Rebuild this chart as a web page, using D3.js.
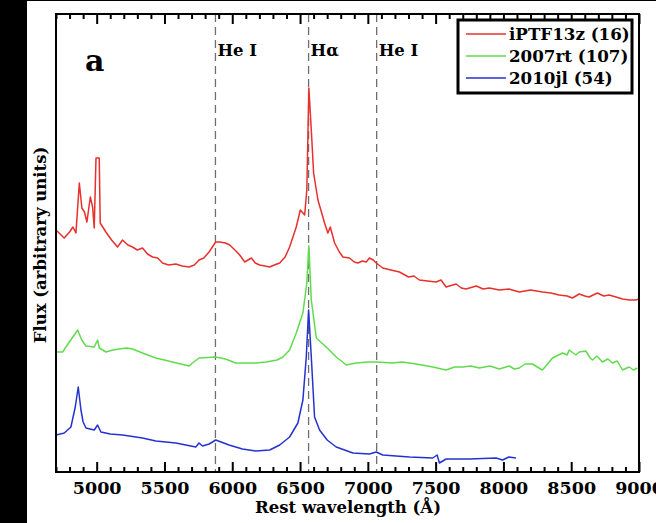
<!DOCTYPE html>
<html>
<head>
<meta charset="utf-8">
<script src="https://cdn.jsdelivr.net/npm/d3@7"></script>
<style>
  body { margin: 0; background: #000; }
  svg { display: block; }
  text { font-family: "DejaVu Serif", serif; font-weight: bold; fill: #000; }
</style>
</head>
<body>
<div id="chart"></div>
<script>
// spectra: [rest wavelength (A), flux (arbitrary units)]
const ptf13z = [
  [4700, 2.42], [4760, 2.34], [4800, 2.40], [4825, 2.45], [4847, 2.39], [4872, 2.89],
  [4891, 2.64], [4910, 2.60], [4928, 2.50], [4953, 2.75], [4970, 2.65], [4982, 2.44],
  [4995, 3.14], [5019, 3.14], [5026, 2.49], [5068, 2.40], [5110, 2.32], [5154, 2.25],
  [5191, 2.32], [5230, 2.27], [5265, 2.25], [5300, 2.22], [5338, 2.24], [5375, 2.18],
  [5412, 2.15], [5450, 2.14], [5486, 2.09], [5530, 2.07], [5584, 2.08], [5630, 2.06],
  [5682, 2.05], [5720, 2.07], [5755, 2.12], [5790, 2.14], [5829, 2.20], [5878, 2.30],
  [5908, 2.30], [5950, 2.29], [5981, 2.27], [6020, 2.22], [6055, 2.17], [6092, 2.10],
  [6141, 2.14], [6170, 2.09], [6202, 2.07], [6240, 2.06], [6276, 2.05], [6310, 2.07],
  [6350, 2.09], [6390, 2.15], [6423, 2.25], [6472, 2.45], [6502, 2.62], [6534, 2.57],
  [6550, 2.82], [6565, 3.84], [6583, 3.42], [6600, 2.99], [6632, 2.72], [6681, 2.49],
  [6705, 2.39], [6723, 2.45], [6755, 2.29], [6790, 2.20], [6816, 2.15], [6865, 2.14],
  [6900, 2.10], [6926, 2.09], [6960, 2.11], [6988, 2.10], [7012, 2.14], [7040, 2.12],
  [7062, 2.09], [7110, 2.04], [7170, 2.02], [7233, 2.00], [7300, 1.95], [7340, 1.96],
  [7380, 1.92], [7440, 1.91], [7503, 1.90], [7540, 1.92], [7577, 1.85], [7651, 1.88],
  [7690, 1.84], [7724, 1.83], [7800, 1.86], [7850, 1.83], [7896, 1.84], [7970, 1.82],
  [8040, 1.83], [8117, 1.80], [8200, 1.82], [8288, 1.80], [8350, 1.79], [8411, 1.77],
  [8470, 1.76], [8509, 1.74], [8559, 1.78], [8600, 1.76], [8632, 1.75], [8693, 1.79],
  [8740, 1.76], [8780, 1.77], [8830, 1.75], [8878, 1.73], [8930, 1.72], [8976, 1.72],
  [9000, 1.73]
];

const sn2007rt = [
  [4700, 1.20], [4749, 1.20], [4798, 1.30], [4860, 1.42], [4890, 1.32], [4921, 1.26],
  [4982, 1.25], [5007, 1.32], [5019, 1.24], [5068, 1.20], [5120, 1.22], [5166, 1.23],
  [5220, 1.24], [5265, 1.23], [5338, 1.19], [5436, 1.14], [5500, 1.12], [5559, 1.10],
  [5620, 1.08], [5682, 1.06], [5706, 1.09], [5755, 1.14], [5878, 1.15], [5950, 1.13],
  [6025, 1.09], [6100, 1.09], [6173, 1.09], [6250, 1.10], [6330, 1.12], [6374, 1.15],
  [6423, 1.22], [6472, 1.39], [6521, 1.59], [6550, 1.89], [6565, 2.26], [6583, 1.72],
  [6620, 1.34], [6693, 1.25], [6767, 1.15], [6841, 1.07], [6914, 1.09], [7000, 1.10],
  [7062, 1.10], [7184, 1.09], [7250, 1.10], [7307, 1.09], [7400, 1.07], [7479, 1.05],
  [7577, 1.02], [7640, 1.05], [7700, 1.05], [7760, 1.06], [7822, 1.04], [7900, 1.06],
  [7970, 1.03], [8043, 1.06], [8080, 1.03], [8117, 1.04], [8160, 1.08], [8215, 1.08],
  [8250, 1.05], [8288, 1.02], [8362, 1.14], [8436, 1.19], [8470, 1.17], [8485, 1.22],
  [8534, 1.17], [8560, 1.20], [8607, 1.21], [8640, 1.14], [8657, 1.12], [8690, 1.16],
  [8730, 1.10], [8770, 1.13], [8804, 1.09], [8840, 1.11], [8878, 1.02], [8927, 1.05],
  [8960, 1.02], [8988, 1.04]
];

const sn2010jl = [
  [4700, 0.37], [4761, 0.39], [4810, 0.45], [4842, 0.65], [4864, 0.85], [4884, 0.62],
  [4900, 0.50], [4921, 0.44], [4982, 0.42], [5007, 0.47], [5031, 0.40], [5100, 0.38],
  [5191, 0.37], [5338, 0.34], [5436, 0.31], [5584, 0.29], [5731, 0.25], [5755, 0.29],
  [5780, 0.26], [5830, 0.28], [5878, 0.32], [5976, 0.27], [6075, 0.23], [6173, 0.21],
  [6276, 0.22], [6350, 0.27], [6423, 0.35], [6484, 0.49], [6521, 0.72], [6546, 1.15],
  [6563, 1.62], [6583, 1.15], [6607, 0.55], [6644, 0.42], [6700, 0.32], [6767, 0.25],
  [6890, 0.19], [7012, 0.18], [7062, 0.20], [7110, 0.17], [7307, 0.15], [7479, 0.14],
  [7511, 0.17], [7528, 0.09], [7577, 0.13], [7749, 0.13], [7945, 0.14], [7994, 0.12],
  [8040, 0.15], [8092, 0.14]
];

const seriesNames = ["iPTF13z (16)", "2007rt (107)", "2010jl (54)"];
const seriesColors = ["#e8302c", "#5fdc4c", "#2433cf"];

// line identifications
const lineNames = ["He I", "H\u03b1", "He I"];
const lineWaves = [5876, 6563, 7065];

const majorTicks = [5000, 5500, 6000, 6500, 7000, 7500, 8000, 8500, 9000];

const W = 656, H = 523;
const margin = { top: 14, right: 17, bottom: 51, left: 56 };
const width = W - margin.left - margin.right;
const height = H - margin.top - margin.bottom;

const svg = d3.select("#chart").append("svg")
  .attr("width", W)
  .attr("height", H);

// white page with the black strip on the left
svg.append("rect").attr("x", 27).attr("y", 1).attr("width", W - 27).attr("height", H - 1).attr("fill", "#fff");

const g = svg.append("g").attr("transform", `translate(${margin.left},${margin.top})`);

const x = d3.scaleLinear().domain([4700, 9000]).range([0, width]);
const y = d3.scaleLinear().domain([0, 4.58]).range([height, 0]);

g.append("clipPath").attr("id", "clip")
  .append("rect").attr("width", width).attr("height", height);

// dashed line markers
g.selectAll(".idline")
  .data(lineWaves)
  .join("line")
  .attr("class", "idline")
  .attr("x1", d => x(d)).attr("x2", d => x(d))
  .attr("y1", 0).attr("y2", height)
  .attr("stroke", "#6e6e6e")
  .attr("stroke-width", 1.3)
  .attr("stroke-dasharray", "8,5");

g.selectAll(".idlabel")
  .data(lineWaves)
  .join("text")
  .attr("class", "idlabel")
  .attr("x", d => x(d) + 2)
  .attr("y", 42)
  .style("font-size", "16.5px")
  .text((d, i) => lineNames[i]);

// spectra
const line = d3.line().x(d => x(d[0])).y(d => y(d[1]));
const spectra = [ptf13z, sn2007rt, sn2010jl];

g.append("g").attr("clip-path", "url(#clip)")
  .selectAll("path")
  .data(spectra)
  .join("path")
  .attr("d", line)
  .attr("fill", "none")
  .attr("stroke", (d, i) => seriesColors[i])
  .attr("stroke-width", 1.5)
  .attr("stroke-linejoin", "round");

// axes: major + minor ticks, bottom and top, pointing inward
const minorTicks = d3.range(4700, 9001, 100).filter(v => v % 500 !== 0);

const bottomMajor = d3.axisBottom(x).tickValues(majorTicks).tickSize(-10).tickPadding(10).tickFormat(d3.format("d"));
const bottomMinor = d3.axisBottom(x).tickValues(minorTicks).tickSize(-5).tickFormat("");
const topMajor = d3.axisTop(x).tickValues(majorTicks).tickSize(-10).tickFormat("");
const topMinor = d3.axisTop(x).tickValues(minorTicks).tickSize(-5).tickFormat("");

const axes = [
  [bottomMajor, height], [bottomMinor, height], [topMajor, 0], [topMinor, 0]
];
axes.forEach(([ax, ty]) => {
  const a = g.append("g").attr("transform", `translate(0,${ty})`).call(ax);
  a.select(".domain").remove();
  a.selectAll(".tick line").attr("stroke", "#000").attr("stroke-width", 2);
  a.selectAll("text")
    .style("font-family", "DejaVu Serif, serif")
    .style("font-weight", "bold")
    .style("font-size", "17.5px")
    .attr("fill", "#000");
});

// frame
g.append("rect")
  .attr("width", width)
  .attr("height", height)
  .attr("fill", "none")
  .attr("stroke", "#000")
  .attr("stroke-width", 2);

// panel letter
g.append("text")
  .attr("x", 29)
  .attr("y", 57)
  .style("font-size", "30px")
  .text("a");

// axis titles
svg.append("text")
  .attr("x", 348)
  .attr("y", 513)
  .attr("text-anchor", "middle")
  .style("font-size", "16.5px")
  .text("Rest wavelength (\u00c5)");

svg.append("text")
  .attr("transform", `translate(46,245) rotate(-90)`)
  .attr("text-anchor", "middle")
  .style("font-size", "16.5px")
  .text("Flux (arbitrary units)");

// legend
const legend = svg.append("g").attr("transform", "translate(458,20)");
legend.append("rect")
  .attr("width", 174)
  .attr("height", 73)
  .attr("fill", "#fff")
  .attr("stroke", "#000")
  .attr("stroke-width", 3);

const items = legend.selectAll(".item")
  .data(seriesNames)
  .join("g")
  .attr("class", "item")
  .attr("transform", (d, i) => `translate(0,${20 + i * 22})`);

items.append("line")
  .attr("x1", 8).attr("x2", 48)
  .attr("y1", -6).attr("y2", -6)
  .attr("stroke", (d, i) => seriesColors[i])
  .attr("stroke-width", 1.5);

items.append("text")
  .attr("x", 51)
  .attr("y", 0)
  .style("font-size", "16.7px")
  .text(d => d);
</script>
</body>
</html>
